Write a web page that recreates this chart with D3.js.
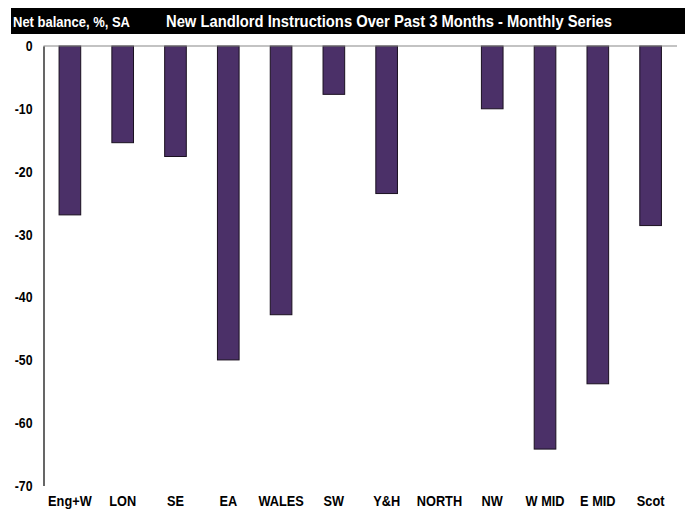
<!DOCTYPE html>
<html lang="en">
<head>
<meta charset="utf-8">
<title>New Landlord Instructions</title>
<script src="https://cdn.jsdelivr.net/npm/d3@7"></script>
<style>
  body { margin: 0; background: #fff; }
  text { font-family: "Liberation Sans", Arial, sans-serif; font-weight: bold; }
</style>
</head>
<body>
<script>
// data
var regions = ["Eng+W", "LON", "SE", "EA", "WALES", "SW", "Y&H", "NORTH", "NW", "W MID", "E MID", "Scot"];
var balance = [-26.9, -15.4, -17.6, -50.0, -42.8, -7.7, -23.5, 0, -10.0, -64.2, -53.8, -28.6];
var yTicks = [0, -10, -20, -30, -40, -50, -60, -70];

var width = 685, height = 514;
var plotLeft = 43.5, plotRight = 677, plotTop = 46, plotBottom = 485.5;

var svg = d3.select("body").append("svg")
  .attr("width", width)
  .attr("height", height);

// squeeze text horizontally to look like a narrow font
function narrow(sel, f) {
  sel.each(function() {
    var w = this.getComputedTextLength();
    d3.select(this)
      .attr("textLength", w * f)
      .attr("lengthAdjust", "spacingAndGlyphs");
  });
}

// header bar
svg.append("rect")
  .attr("x", 11).attr("y", 8)
  .attr("width", width - 11).attr("height", 26)
  .attr("fill", "#000");

svg.append("text")
  .attr("x", 13).attr("y", 27)
  .attr("fill", "#fff")
  .style("font-size", "15px")
  .attr("textLength", 117)
  .attr("lengthAdjust", "spacingAndGlyphs")
  .text("Net balance, %, SA");

svg.append("text")
  .attr("x", 166).attr("y", 27)
  .attr("fill", "#fff")
  .style("font-size", "17px")
  .attr("textLength", 446)
  .attr("lengthAdjust", "spacingAndGlyphs")
  .text("New Landlord Instructions Over Past 3 Months - Monthly Series");

var x = d3.scaleBand()
  .domain(regions)
  .range([plotLeft, plotRight])
  .paddingInner(0.59)
  .paddingOuter(0.295);

var y = d3.scaleLinear()
  .domain([0, -70])
  .range([plotTop, plotBottom]);

// bars
svg.selectAll("rect.bar")
  .data(balance)
  .enter()
  .append("rect")
  .attr("class", "bar")
  .attr("x", function(d, i) { return x(regions[i]); })
  .attr("y", function(d) { return y(Math.max(0, d)); })
  .attr("width", x.bandwidth())
  .attr("height", function(d) { return Math.abs(y(d) - y(0)); })
  .attr("fill", "#4b3068")
  .attr("stroke", "#1a1020")
  .attr("stroke-width", 1)
  .style("display", function(d) { return d === 0 ? "none" : null; });

// zero line
svg.append("line")
  .attr("x1", plotLeft).attr("x2", plotRight)
  .attr("y1", y(0)).attr("y2", y(0))
  .attr("stroke", "#888")
  .attr("stroke-width", 1.2);

// y axis (plain hyphen for the minus sign, as in the original)
var yAxis = d3.axisLeft(y)
  .tickValues(yTicks)
  .tickSize(0)
  .tickPadding(11)
  .tickFormat(function(d) { return String(d); });

var gy = svg.append("g")
  .attr("transform", "translate(" + plotLeft + ",0)")
  .call(yAxis);
gy.select(".domain").attr("stroke", "#000").attr("stroke-width", 1.2);
gy.selectAll("text")
  .style("font-size", "15px")
  .style("font-family", "'Liberation Sans', Arial, sans-serif")
  .attr("fill", "#000")
  .call(narrow, 0.82);

// x labels
var xAxis = d3.axisBottom(x).tickSize(0).tickPadding(0);
var gx = svg.append("g")
  .attr("transform", "translate(0," + (plotBottom + 10) + ")")
  .call(xAxis);
gx.select(".domain").remove();
gx.selectAll("text")
  .style("font-size", "15px")
  .style("font-family", "'Liberation Sans', Arial, sans-serif")
  .attr("fill", "#000")
  .call(narrow, 0.85);
</script>
</body>
</html>
